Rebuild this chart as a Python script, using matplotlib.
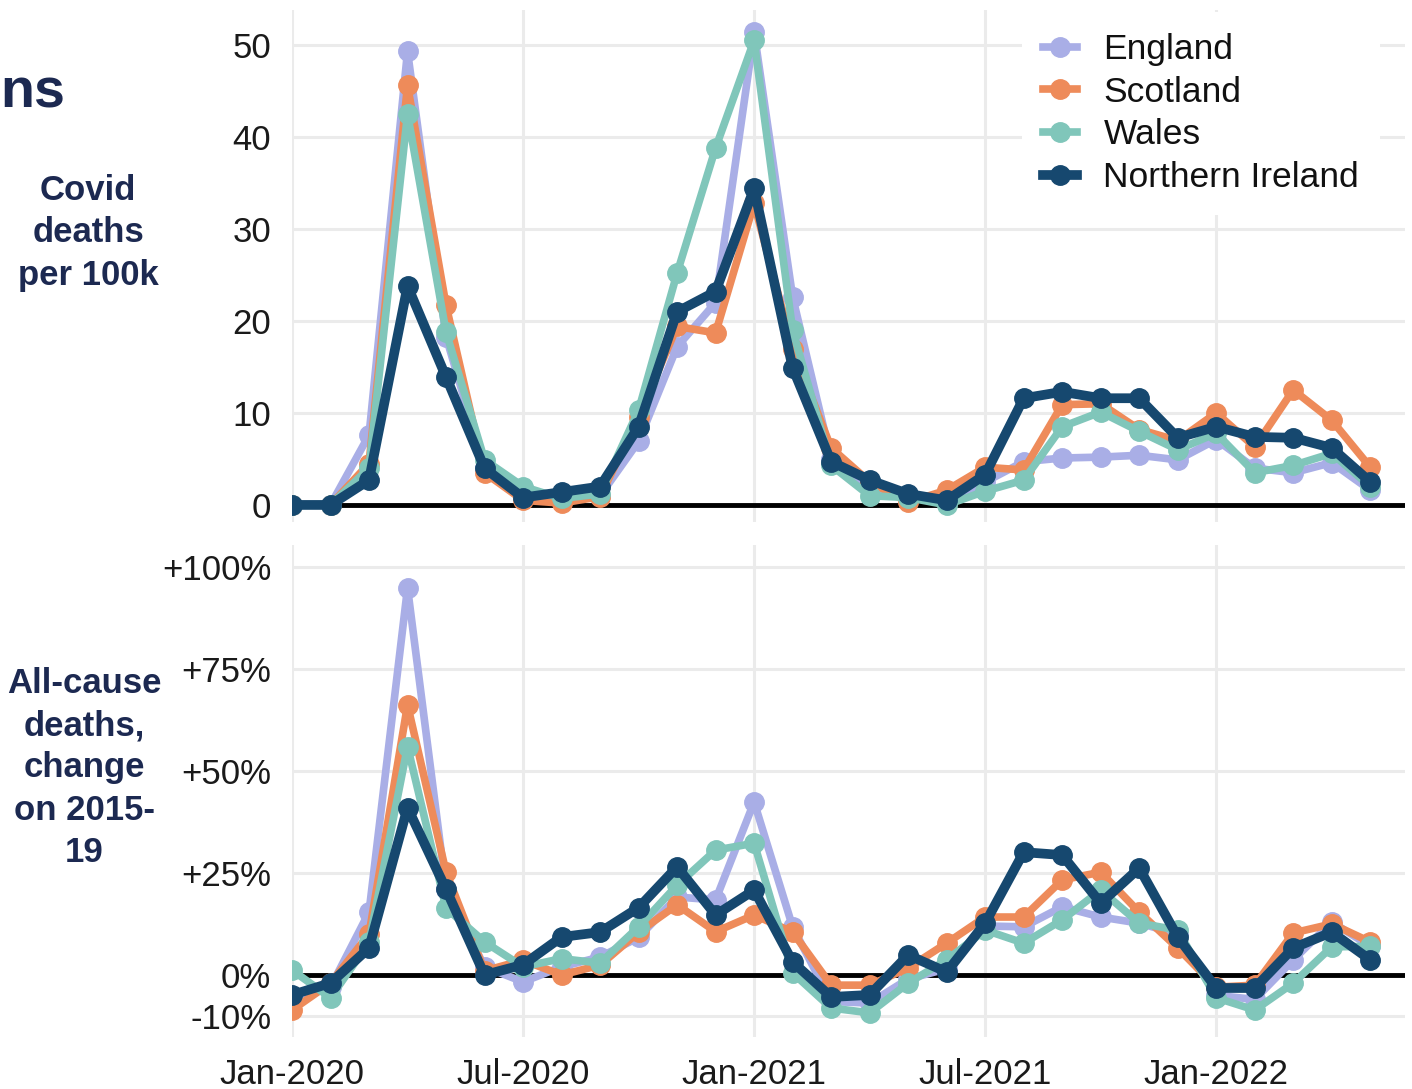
import matplotlib
matplotlib.use("Agg")
import matplotlib.pyplot as plt

plt.rcParams['font.family'] = ['Liberation Sans', 'DejaVu Sans']

# months since Jan-2020 (Jan-2020 .. May-2022)
months = list(range(29))
tick_pos = [0, 6, 12, 18, 24]
tick_labels = ['Jan-2020', 'Jul-2020', 'Jan-2021', 'Jul-2021', 'Jan-2022']

countries = ['England', 'Scotland', 'Wales', 'Northern Ireland']
colors = ['#A9AEE6', '#EE8B5A', '#80C6BA', '#16486F']

# covid deaths per 100k
covid_england = [0, 0, 7.6, 49.3, 18.3, 4.0, 1.0, 0.7, 1.0, 6.9, 17.2, 22.0, 51.4, 22.6,
                 5.0, 2.0, 0.8, 0.3, 2.5, 4.7, 5.1, 5.2, 5.4, 4.9, 7.1, 4.0, 3.5, 4.6, 1.6]
covid_scotland = [0, 0, 4.5, 45.6, 21.7, 3.5, 0.5, 0.2, 0.9, 9.6, 19.4, 18.7, 32.8, 17.0,
                  6.2, 2.5, 0.3, 1.6, 4.1, 3.8, 10.9, 11.0, 8.2, 7.0, 10.0, 6.3, 12.5, 9.2, 4.1]
covid_wales = [0, 0, 4.0, 42.5, 18.8, 4.9, 2.0, 0.7, 1.2, 10.3, 25.2, 38.8, 50.5, 19.0,
               4.3, 1.0, 0.8, 0.0, 1.5, 2.7, 8.5, 10.1, 8.0, 6.0, 7.8, 3.5, 4.3, 5.6, 2.0]
covid_ni = [0, 0, 2.7, 23.8, 13.9, 4.0, 0.8, 1.4, 2.0, 8.5, 21.0, 23.2, 34.4, 14.9,
            4.7, 2.7, 1.2, 0.5, 3.3, 11.6, 12.3, 11.6, 11.6, 7.3, 8.5, 7.4, 7.3, 6.2, 2.5]

# all-cause deaths, % change on 2015-19
excess_england = [-6, -3, 15.4, 94.9, 21, 2, -1.7, 2, 4.4, 9.2, 19.1, 18.4, 42.4, 11.8,
                  -6.5, -6.9, -1, 1.5, 12, 11.8, 16.7, 14.2, 12.7, 10, -5, -6, 3.7, 13, 7]
excess_scotland = [-8.6, -2, 10, 66.2, 25.2, 1, 3.6, 0, 2.4, 10.5, 17.2, 10.6, 14.7, 10.5,
                   -2.5, -2.5, 1.7, 7.8, 14.2, 14.2, 23.3, 25.2, 15.4, 6.6, -3, -2.5, 10.3, 12.5, 8.1]
excess_wales = [1.2, -5.6, 8, 56, 16.4, 8.1, 2, 4, 2.9, 11.8, 22, 30.6, 32.3, 0.5,
                -8.1, -9.3, -2, 3.7, 11, 7.8, 13.5, 20.8, 12.7, 11, -5.6, -8.6, -2, 6.9, 7]
excess_ni = [-4.9, -2, 6.6, 41, 21, 0, 2.5, 9.3, 10.5, 16.5, 26.5, 14.7, 20.8, 3.2,
             -5.4, -4.9, 4.9, 0.7, 12.7, 30.1, 29.4, 17.6, 26.2, 9.3, -3.2, -3.2, 6.6, 10.5, 3.7]

covid = [covid_england, covid_scotland, covid_wales, covid_ni]
excess = [excess_england, excess_scotland, excess_wales, excess_ni]

navy = '#1C2951'
grid_col = '#EBEBEB'

fig = plt.figure(figsize=(14.12, 10.89), dpi=100)
ax1 = fig.add_axes([0.2068, 0.5207, 0.995 - 0.2068, 0.9908 - 0.5207])
ax2 = fig.add_axes([0.2068, 0.0478, 0.995 - 0.2068, 0.4995 - 0.0478])


def style(ax):
    for s in ax.spines.values():
        s.set_visible(False)
    ax.set_xlim(0, 28.9)
    ax.set_xticks(tick_pos)
    ax.grid(True, color=grid_col, linewidth=2.2, zorder=0)
    ax.set_axisbelow(True)
    ax.tick_params(length=0, labelsize=25, labelcolor='#1a1a1a', pad=15)
    ax.axhline(0, color='black', linewidth=3.5, zorder=2)


for i in range(4):
    lw = 5.5 if i < 3 else 7
    ax1.plot(months, covid[i], color=colors[i], linewidth=lw, marker='o', markersize=14,
             label=countries[i], zorder=3 + i)
    ax2.plot(months, excess[i], color=colors[i], linewidth=lw, marker='o', markersize=14,
             zorder=3 + i)

style(ax1)
ax1.set_ylim(-1.85, 53.8)
ax1.set_yticks([0, 10, 20, 30, 40, 50])
ax1.set_xticklabels([])

style(ax2)
ax2.set_ylim(-15.2, 105.4)
ax2.set_yticks([-10, 0, 25, 50, 75, 100])
ax2.set_yticklabels(['-10%', '0%', '+25%', '+50%', '+75%', '+100%'])
ax2.set_xticklabels(tick_labels)

leg = ax1.legend(loc='upper left', bbox_to_anchor=(1022 / 1412, 1 - 12 / 1089),
                 bbox_transform=fig.transFigure, fontsize=25.5, frameon=True,
                 facecolor='white', edgecolor='none', framealpha=1, handlelength=0.95,
                 handletextpad=0.75, labelspacing=0.27, borderpad=0.6, borderaxespad=0)
leg.set_zorder(10)
for t in leg.get_texts():
    t.set_color('#111111')

fig.text(0.0, 1 - 108 / 1089, 'ns', fontsize=40, fontweight='bold', color=navy,
         ha='left', va='baseline')
fig.text(88 / 1412, 1 - 233 / 1089, 'Covid\ndeaths\nper 100k', fontsize=25,
         fontweight='bold', color=navy, ha='center', va='center', linespacing=1.35)
fig.text(84 / 1412, 1 - 768 / 1089, 'All-cause\ndeaths,\nchange\non 2015-\n19', fontsize=25,
         fontweight='bold', color=navy, ha='center', va='center', linespacing=1.35)

fig.savefig('out.png', dpi=100)
